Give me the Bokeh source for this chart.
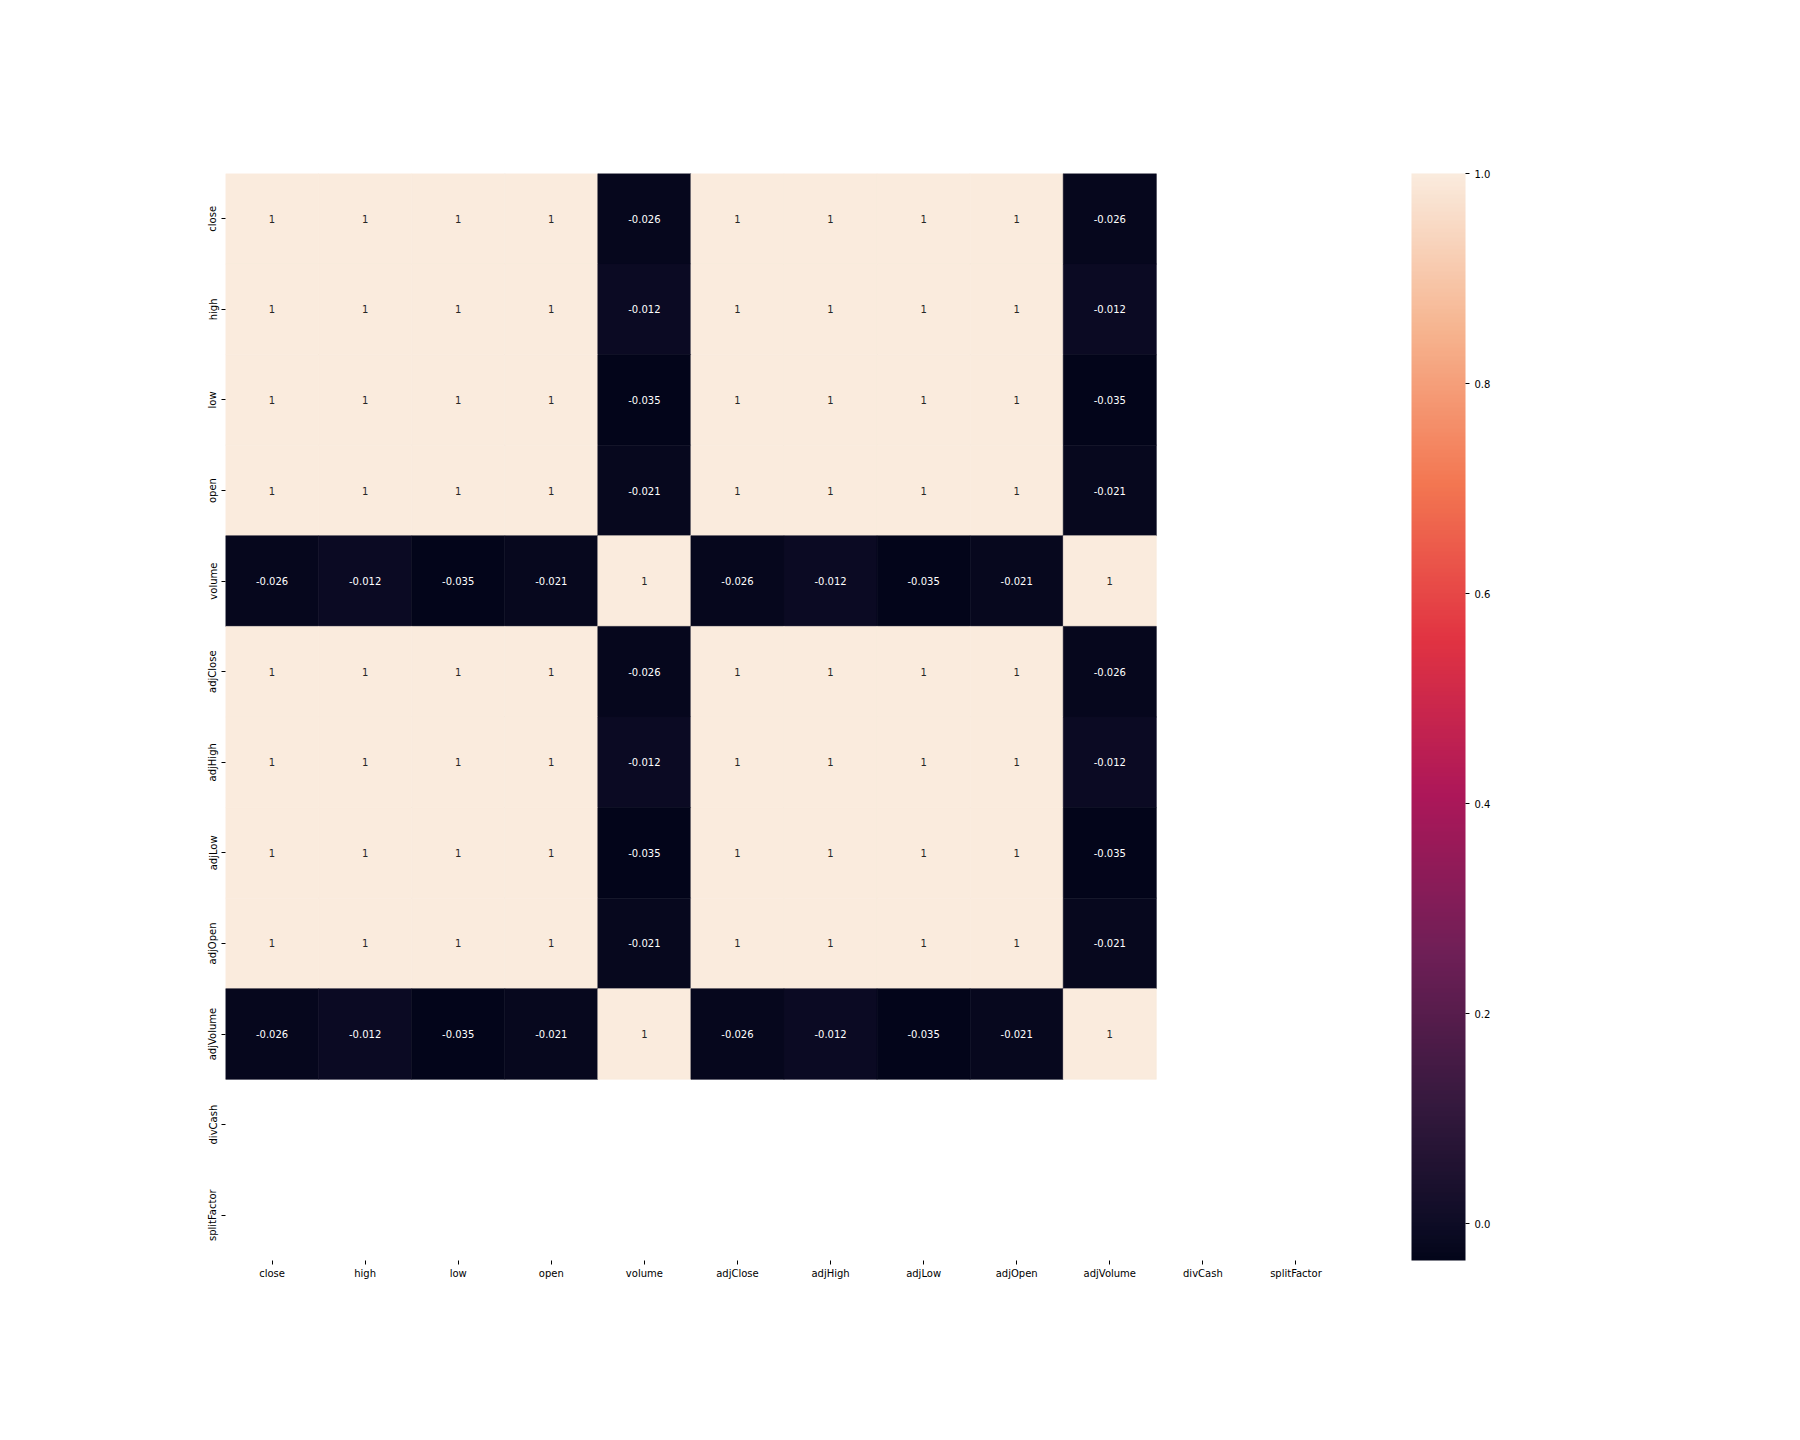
from bokeh.plotting import figure
from bokeh.models import (FactorRange, ColumnDataSource, LinearColorMapper, ColorBar,
                          FixedTicker, CustomJSTickFormatter)
from bokeh.core.properties import value
from bokeh.embed import file_html
from bokeh.resources import INLINE

# ---------------- data ----------------
columns = ["close", "high", "low", "open", "volume", "adjClose", "adjHigh",
           "adjLow", "adjOpen", "adjVolume", "divCash", "splitFactor"]
price_cols = ["close", "high", "low", "open", "adjClose", "adjHigh", "adjLow", "adjOpen"]
volume_cols = ["volume", "adjVolume"]
# correlation of each price column with volume / adjVolume
price_volume_corr = [-0.026, -0.012, -0.035, -0.021, -0.026, -0.012, -0.035, -0.021]
nan_cols = ["divCash", "splitFactor"]
colorbar_ticks = [0.0, 0.2, 0.4, 0.6, 0.8, 1.0]
vmin, vmax = -0.035, 1.0

# rocket colormap anchors
rocket_pos = [0.0, 0.03, 1 / 7, 2 / 7, 3 / 7, 4 / 7, 5 / 7, 6 / 7, 1.0]
rocket_hex = ["#03051a", "#0d0c25", "#35193e", "#701f57", "#ad1759", "#e13342", "#f37651",
              "#f6b48f", "#faebdd"]


def hex2rgb(h):
    return tuple(int(h[i:i + 2], 16) for i in (1, 3, 5))


def make_palette(n=256):
    rgbs = [hex2rgb(h) for h in rocket_hex]
    out = []
    for k in range(n):
        t = k / (n - 1)
        for i in range(len(rocket_pos) - 1):
            if rocket_pos[i] <= t <= rocket_pos[i + 1]:
                f = (t - rocket_pos[i]) / (rocket_pos[i + 1] - rocket_pos[i])
                c = [round(rgbs[i][j] + f * (rgbs[i + 1][j] - rgbs[i][j])) for j in range(3)]
                out.append("#%02x%02x%02x" % tuple(c))
                break
    return out


palette = make_palette()


def corr_value(a, b):
    if a in nan_cols or b in nan_cols:
        return None
    if (a in price_cols) == (b in price_cols):
        return 1.0
    pc = a if a in price_cols else b
    return price_volume_corr[price_cols.index(pc)]


def color_for(v):
    t = (v - vmin) / (vmax - vmin)
    idx = min(255, max(0, int(t * 255 + 0.5)))
    return palette[idx]


xs, ys, vals, fills, labels, tcolors = [], [], [], [], [], []
for r in columns:
    for c in columns:
        v = corr_value(r, c)
        if v is None:
            continue
        xs.append(c)
        ys.append(r)
        vals.append(v)
        fills.append(color_for(v))
        labels.append(format(v, ".2g"))
        tcolors.append("#ffffff" if v < 0.5 else "#262626")

src = ColumnDataSource(dict(x=xs, y=ys, v=vals, fill=fills, label=labels, tc=tcolors))

p = figure(x_range=FactorRange(factors=columns), y_range=FactorRange(factors=columns[::-1]),
           frame_width=1117, frame_height=1087,
           min_border_left=225, min_border_top=173, min_border_right=458, min_border_bottom=180,
           output_backend="svg", toolbar_location=None)
p.outline_line_color = None
p.grid.visible = False
p.background_fill_color = "white"
p.border_fill_color = "white"

p.rect(x="x", y="y", width=1, height=1, source=src, fill_color="fill",
       line_color="fill", line_width=0.6)
p.text(x="x", y="y", text="label", source=src, text_color="tc", text_align="center",
       text_baseline="middle", text_font=value("DejaVu Sans"), text_font_size="10px")

for ax in (p.xaxis[0], p.yaxis[0]):
    ax.axis_line_color = None
    ax.major_tick_in = 0
    ax.major_tick_out = 4
    ax.major_tick_line_color = "#000000"
    ax.minor_tick_line_color = None
    ax.major_label_text_font = "DejaVu Sans"
    ax.major_label_text_font_size = "10px"
    ax.major_label_text_color = "#000000"
    ax.major_label_standoff = 3
p.yaxis[0].major_label_orientation = "parallel"

mapper = LinearColorMapper(palette=palette, low=vmin, high=vmax)
cb = ColorBar(color_mapper=mapper, width=54, height=1087, padding=0, margin=0,
              ticker=FixedTicker(ticks=colorbar_ticks),
              formatter=CustomJSTickFormatter(code="return tick.toFixed(1);"),
              major_tick_in=0, major_tick_out=4, major_tick_line_color="#000000",
              minor_tick_line_color=None, bar_line_color=None, border_line_color=None,
              background_fill_alpha=0, label_standoff=5,
              major_label_text_font="DejaVu Sans", major_label_text_font_size="10px",
              major_label_text_color="#000000", location=(69, 0))
p.add_layout(cb, "right")

open("out.html", "w").write(file_html(p, INLINE))
